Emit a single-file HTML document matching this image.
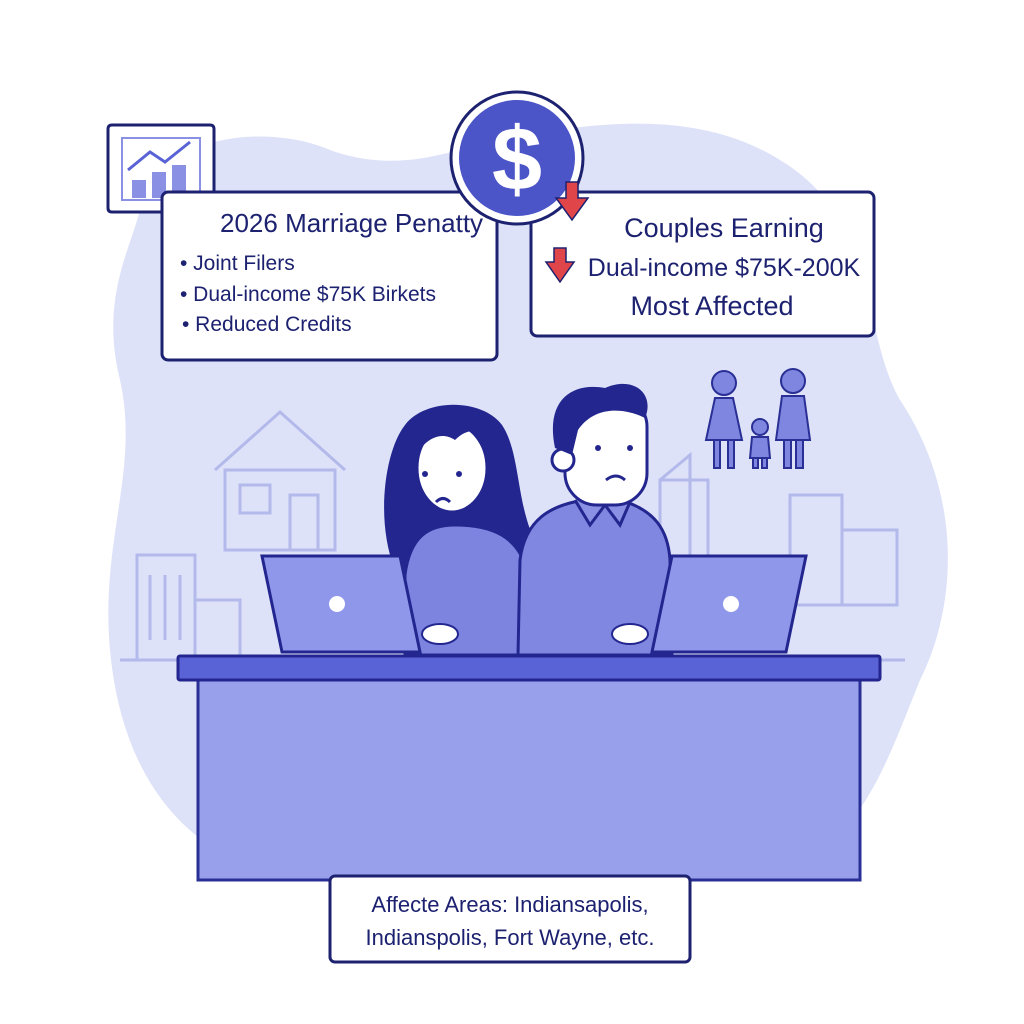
<!DOCTYPE html>
<html><head><style>html,body{margin:0;padding:0;background:#fff}svg{display:block}
text{font-family:"Liberation Sans",sans-serif;fill:#1c2170}</style></head>
<body>
<svg width="1024" height="1024" viewBox="0 0 1024 1024" xmlns="http://www.w3.org/2000/svg">
<path d="M140 210 C150 140 260 120 330 150 C400 175 450 150 500 140 C600 120 700 110 780 160 C880 220 860 330 900 400 C960 490 960 600 920 680 C880 780 860 840 780 870 L260 870 C170 840 120 760 110 650 C100 540 140 470 120 380 C100 300 130 250 140 210 Z" fill="#dde2f8"/>
<g fill="none" stroke="#b3b9ea" stroke-width="3">
<path d="M215 470 L280 412 L345 470"/><rect x="225" y="470" width="110" height="80"/><rect x="240" y="485" width="30" height="28"/><rect x="290" y="495" width="28" height="55"/>
<rect x="137" y="555" width="58" height="105"/><rect x="195" y="600" width="45" height="60"/>
<line x1="150" y1="575" x2="150" y2="640"/><line x1="165" y1="575" x2="165" y2="640"/><line x1="180" y1="575" x2="180" y2="640"/>
<path d="M660 480 L690 455 L690 560 L660 560 Z"/><rect x="660" y="480" width="48" height="80"/>
<rect x="790" y="495" width="52" height="110"/><rect x="842" y="530" width="55" height="75"/>
<line x1="120" y1="660" x2="905" y2="660"/>
</g>
<g fill="#7e86e0" stroke="#2a2f95" stroke-width="2">
<circle cx="724" cy="383" r="12"/><path d="M715 398 L733 398 L742 440 L706 440 Z"/><rect x="714" y="440" width="6" height="28"/><rect x="728" y="440" width="6" height="28"/>
<circle cx="793" cy="381" r="12"/><path d="M782 396 L804 396 L810 440 L776 440 Z"/><rect x="784" y="440" width="7" height="28"/><rect x="796" y="440" width="7" height="28"/>
<circle cx="760" cy="427" r="8"/><path d="M752 437 L768 437 L770 458 L750 458 Z"/><rect x="753" y="458" width="5" height="10"/><rect x="762" y="458" width="5" height="10"/>
</g>
<!-- woman -->
<path d="M395 570 C375 520 385 450 405 425 C425 398 482 398 502 425 C522 455 515 510 540 550 L520 570 Z" fill="#23268f"/>
<path d="M405 575 C410 535 430 525 455 525 C490 525 520 535 528 575 L530 655 L405 655 Z" fill="#7d84e0" stroke="#23268f" stroke-width="3"/>
<ellipse cx="452" cy="468" rx="35" ry="44" fill="#fff" stroke="#23268f" stroke-width="3"/>
<path d="M416 455 C425 415 470 408 492 445 C485 430 470 425 455 440 C440 430 425 440 416 455Z" fill="#23268f"/>
<circle cx="425" cy="474" r="3" fill="#23268f"/><circle cx="459" cy="474" r="3" fill="#23268f"/>
<path d="M436 502 Q443 495 450 502" fill="none" stroke="#23268f" stroke-width="3"/>
<!-- man -->
<path d="M518 655 L520 560 C525 520 550 505 585 500 L620 500 C655 510 668 530 670 560 L672 655 Z" fill="#8087e0" stroke="#23268f" stroke-width="3"/>
<path d="M575 500 L590 525 L605 505 L620 525 L630 502" fill="#8a90e4" stroke="#23268f" stroke-width="3"/>
<rect x="565" y="395" width="82" height="110" rx="32" fill="#fff" stroke="#23268f" stroke-width="3"/>
<circle cx="563" cy="460" r="11" fill="#fff" stroke="#23268f" stroke-width="3"/>
<path d="M555 448 C545 400 572 382 605 388 C635 375 655 395 645 418 C625 408 595 405 578 430 L572 455 Z" fill="#23268f"/>
<circle cx="598" cy="448" r="3" fill="#23268f"/><circle cx="630" cy="448" r="3" fill="#23268f"/>
<path d="M606 480 Q616 472 625 480" fill="none" stroke="#23268f" stroke-width="3"/>
<path d="M262 556 L400 556 L420 652 L282 652 Z" fill="#8f97ea" stroke="#23268f" stroke-width="3"/>
<circle cx="337" cy="604" r="8" fill="#fff"/>
<path d="M672 556 L806 556 L786 652 L652 652 Z" fill="#8f97ea" stroke="#23268f" stroke-width="3"/>
<circle cx="731" cy="604" r="8" fill="#fff"/>
<ellipse cx="440" cy="634" rx="18" ry="10" fill="#fff" stroke="#23268f" stroke-width="2"/>
<ellipse cx="630" cy="634" rx="18" ry="10" fill="#fff" stroke="#23268f" stroke-width="2"/>
<rect x="198" y="680" width="662" height="200" fill="#98a0ec" stroke="#2a2f95" stroke-width="3"/>
<rect x="178" y="656" width="702" height="24" rx="2" fill="#5a63d6" stroke="#23268f" stroke-width="3"/>
<rect x="330" y="876" width="360" height="86" rx="5" fill="#fff" stroke="#1c2170" stroke-width="3"/>
<text x="510" y="912" text-anchor="middle" font-size="22">Affecte Areas: Indiansapolis,</text>
<text x="510" y="945" text-anchor="middle" font-size="22">Indianspolis, Fort Wayne, etc.</text>
<path d="M112 125 L210 125 Q214 125 214 129 L214 212 L205 212 L200 238 L190 212 L112 212 Q108 212 108 208 L108 129 Q108 125 112 125Z" fill="#fff" stroke="#1c2170" stroke-width="3"/>
<rect x="122" y="138" width="78" height="62" fill="#fff" stroke="#8a90e4" stroke-width="2"/>
<rect x="132" y="180" width="14" height="18" fill="#8a90e4"/><rect x="152" y="172" width="14" height="26" fill="#8a90e4"/><rect x="172" y="165" width="14" height="33" fill="#8a90e4"/>
<path d="M128 170 L150 152 L165 162 L190 142" fill="none" stroke="#5a63d6" stroke-width="3"/>
<rect x="162" y="192" width="335" height="168" rx="6" fill="#fff" stroke="#1c2170" stroke-width="3"/>
<rect x="190" y="211" width="25" height="6" fill="#fff"/>
<text x="220" y="232" font-size="26">2026 Marriage Penatty</text>
<text x="180" y="270" font-size="21">•  Joint Filers</text>
<text x="180" y="301" font-size="21">•  Dual-income $75K Birkets</text>
<text x="182" y="331" font-size="21">•  Reduced Credits</text>
<rect x="531" y="192" width="343" height="144" rx="6" fill="#fff" stroke="#1c2170" stroke-width="3"/>
<text x="724" y="237" text-anchor="middle" font-size="27">Couples Earning</text>
<text x="724" y="276" text-anchor="middle" font-size="25">Dual-income $75K-200K</text>
<text x="712" y="315" text-anchor="middle" font-size="27">Most Affected</text>
<path d="M554 248 L566 248 L566 262 L574 262 L560 282 L546 262 L554 262Z" fill="#e0454a" stroke="#1c2170" stroke-width="1.5"/>
<circle cx="517" cy="158" r="66" fill="#fff" stroke="#1c2170" stroke-width="3"/>
<circle cx="517" cy="158" r="58" fill="#4b55c8"/>
<text x="517" y="190" text-anchor="middle" font-size="90" font-weight="bold" style="fill:#fff">$</text>
<path d="M566 182 L578 182 L578 198 L588 198 L572 220 L556 198 L566 198Z" fill="#e0454a" stroke="#1c2170" stroke-width="1.5"/>
</svg>
</body></html>
